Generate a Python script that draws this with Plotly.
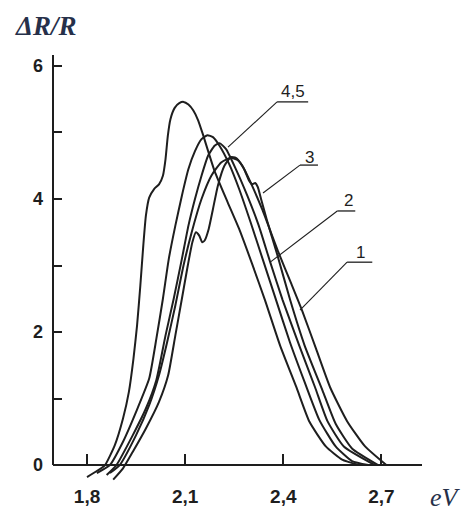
import plotly.graph_objects as go

# ---- data (photon energy, eV ; dR/R) ----
curve_45a_ev = [1.80, 1.83, 1.855, 1.885, 1.91, 1.928, 1.942, 1.953, 1.963, 1.972, 1.98, 1.99, 2.005, 2.02, 2.032, 2.04, 2.047, 2.055, 2.068, 2.082, 2.095, 2.11, 2.125, 2.14, 2.155, 2.19, 2.23, 2.265, 2.305, 2.344, 2.39, 2.44, 2.48, 2.53, 2.58, 2.63]
curve_45a_v  = [-0.18, -0.09, 0.00, 0.30, 0.70, 1.10, 1.60, 2.10, 2.70, 3.30, 3.75, 4.02, 4.15, 4.22, 4.35, 4.60, 4.95, 5.20, 5.37, 5.44, 5.46, 5.42, 5.33, 5.18, 4.96, 4.42, 3.95, 3.55, 3.02, 2.48, 1.80, 1.17, 0.65, 0.28, 0.08, 0.00]

curve_45b_ev = [1.83, 1.87, 1.91, 1.95, 1.99, 2.012, 2.032, 2.05, 2.07, 2.09, 2.11, 2.13, 2.15, 2.168, 2.185, 2.205, 2.235, 2.265, 2.30, 2.34, 2.378, 2.42, 2.465, 2.51, 2.56, 2.61, 2.66]
curve_45b_v  = [-0.12, 0.00, 0.35, 0.80, 1.30, 1.90, 2.50, 3.10, 3.60, 4.05, 4.45, 4.72, 4.90, 4.96, 4.93, 4.80, 4.52, 4.15, 3.65, 3.05, 2.48, 1.85, 1.25, 0.68, 0.28, 0.06, 0.00]

curve_2_ev = [1.86, 1.89, 1.94, 1.98, 2.012, 2.04, 2.065, 2.09, 2.11, 2.13, 2.15, 2.17, 2.19, 2.205, 2.225, 2.255, 2.29, 2.325, 2.36, 2.398, 2.45, 2.497, 2.535, 2.585, 2.68]
curve_2_v  = [-0.15, 0.00, 0.45, 0.85, 1.28, 1.95, 2.50, 3.10, 3.60, 4.00, 4.35, 4.65, 4.80, 4.84, 4.75, 4.45, 4.05, 3.60, 3.05, 2.48, 1.78, 1.17, 0.66, 0.28, 0.00]

curve_1_ev = [1.88, 1.91, 1.94, 1.98, 2.02, 2.048, 2.07, 2.09, 2.108, 2.122, 2.133, 2.143, 2.152, 2.16, 2.172, 2.185, 2.20, 2.22, 2.24, 2.255, 2.275, 2.30, 2.335, 2.385, 2.425, 2.457, 2.50, 2.543, 2.595, 2.65, 2.715]
curve_1_v  = [-0.22, -0.05, 0.20, 0.55, 0.95, 1.35, 1.95, 2.50, 3.00, 3.35, 3.50, 3.45, 3.35, 3.38, 3.55, 3.85, 4.20, 4.50, 4.63, 4.62, 4.50, 4.25, 3.85, 3.20, 2.72, 2.33, 1.75, 1.17, 0.66, 0.28, 0.00]

curve_3_ev = [1.87, 1.90, 1.95, 1.99, 2.02, 2.045, 2.07, 2.095, 2.12, 2.15, 2.18, 2.21, 2.24, 2.262, 2.28, 2.295, 2.305, 2.314, 2.322, 2.332, 2.35, 2.38, 2.421, 2.465, 2.52, 2.56, 2.61, 2.69]
curve_3_v  = [-0.12, 0.00, 0.45, 0.90, 1.35, 1.85, 2.40, 3.00, 3.50, 4.00, 4.35, 4.55, 4.62, 4.58, 4.45, 4.28, 4.22, 4.24, 4.18, 4.00, 3.68, 3.19, 2.48, 1.80, 1.12, 0.62, 0.25, 0.00]

x_tick_vals = [1.8, 2.1, 2.4, 2.7]
x_tick_text = ["1,8", "2,1", "2,4", "2,7"]
y_tick_vals = [0, 1, 2, 3, 4, 5, 6]
y_tick_text = ["0", "", "2", "", "4", "", "6"]

# curve labels: text, text position, underline (x0, x1, y), leader end (data units)
labels = [
    ("4,5", (2.43, 5.62), (2.381, 2.476, 5.46), (2.231, 4.78)),
    ("3",   (2.48, 4.63), (2.451, 2.506, 4.51), (2.338, 4.09)),
    ("2",   (2.60, 3.98), (2.565, 2.62, 3.82), (2.36, 3.05)),
    ("1",   (2.635, 3.20), (2.595, 2.672, 3.05), (2.451, 2.33)),
]

X_RANGE = [1.696, 2.824]
Y_RANGE = [-0.3, 6.165]
INK = "#1e1e1e"
SERIF = "Liberation Serif, Times New Roman, DejaVu Serif, serif"

fig = go.Figure()
for ev, v in [(curve_45a_ev, curve_45a_v), (curve_45b_ev, curve_45b_v),
              (curve_2_ev, curve_2_v), (curve_1_ev, curve_1_v), (curve_3_ev, curve_3_v)]:
    fig.add_trace(go.Scatter(x=ev, y=v, mode="lines",
                             line=dict(color=INK, width=2, shape="spline", smoothing=0.5),
                             hoverinfo="skip", showlegend=False))

shapes = [dict(type="line", xref="paper", yref="y", x0=0, x1=0, y0=0, y1=Y_RANGE[1],
               line=dict(color=INK, width=2))]
annotations = []
for text, (tx, ty), (ux0, ux1, uy), (ex, ey) in labels:
    annotations.append(dict(x=tx, y=ty, xref="x", yref="y", text=text, showarrow=False,
                            font=dict(family="Liberation Sans", size=17, color=INK)))
    shapes.append(dict(type="line", xref="x", yref="y", x0=ux0, x1=ux1, y0=uy, y1=uy,
                       line=dict(color=INK, width=1.3)))
    shapes.append(dict(type="line", xref="x", yref="y", x0=ux0, x1=ex, y0=uy, y1=ey,
                       line=dict(color=INK, width=1.1)))

annotations.append(dict(x=-0.108, y=1.067, xref="paper", yref="paper", xanchor="left",
                        yanchor="middle", text="<b><i>ΔR/R</i></b>", showarrow=False,
                        font=dict(family=SERIF, size=27, color="#26304a")))
annotations.append(dict(x=1.016, y=-0.030, xref="paper", yref="paper", xanchor="left",
                        yanchor="middle", text="<i>eV</i>", showarrow=False,
                        font=dict(family=SERIF, size=26, color="#26304a")))

# page body adds an 8 px margin, so the figure is sized to the remaining window
fig.update_layout(width=466, height=507, margin=dict(l=45, r=52, t=47, b=30),
                  plot_bgcolor="white", paper_bgcolor="white",
                  shapes=shapes, annotations=annotations)
fig.update_xaxes(range=X_RANGE, tickvals=x_tick_vals, ticktext=x_tick_text,
                 ticks="inside", ticklen=10, tickwidth=2, tickcolor=INK,
                 showline=True, linecolor=INK, linewidth=2, showgrid=False, zeroline=False,
                 anchor="free", position=(0 - Y_RANGE[0]) / (Y_RANGE[1] - Y_RANGE[0]),
                 ticklabelstandoff=14, automargin=False,
                 tickfont=dict(family="Liberation Sans", size=19, color=INK, weight="bold"))
fig.update_yaxes(range=Y_RANGE, tickvals=y_tick_vals, ticktext=y_tick_text,
                 ticks="inside", ticklen=9, tickwidth=2, tickcolor=INK,
                 showline=False, showgrid=False, zeroline=False, ticklabelstandoff=9,
                 automargin=False,
                 tickfont=dict(family="Liberation Sans", size=18, color=INK, weight="bold"))

fig.write_html("out.html")
